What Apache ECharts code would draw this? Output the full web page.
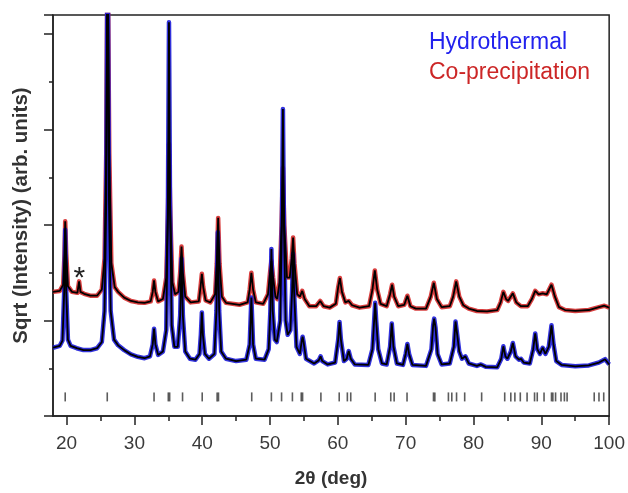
<!DOCTYPE html>
<html>
<head>
<meta charset="utf-8">
<script src="https://cdn.jsdelivr.net/npm/echarts@6/dist/echarts.min.js"></script>
<style>html,body{margin:0;padding:0;background:#fff;}#c{width:628px;height:493px;}</style>
</head>
<body>
<div id="c"></div>
<script>
// 2-theta (deg), sqrt(intensity) in arbitrary units (offset already included)
const hydrothermal = [
 [18,1.43],[19.0,1.47],[19.4,1.58],[19.65,2.6],[19.8,3.9],[19.95,2.6],[20.2,1.6],[20.6,1.47],[21.5,1.42],[22.5,1.38],[23.5,1.38],[24.5,1.42],
 [25.2,1.55],[25.6,2.2],[25.85,4.5],[26.05,10.5],[26.25,4.5],[26.5,2.2],[27.0,1.6],[27.6,1.48],[28.5,1.38],[29.5,1.29],[30.5,1.24],[31.5,1.21],
 [32.3,1.25],[32.7,1.5],[32.9,1.83],[33.1,1.5],[33.5,1.28],[34.2,1.35],[34.7,1.8],[34.95,4.5],[35.1,8.25],[35.25,4.5],[35.5,1.9],[35.9,1.45],
 [36.4,1.45],[36.75,2.1],[36.95,3.3],[37.15,2.1],[37.5,1.35],[38.2,1.2],[39.0,1.18],[39.6,1.3],[39.8,1.7],[39.95,2.17],[40.1,1.7],[40.4,1.3],
 [41.0,1.2],[41.8,1.3],[42.1,2.2],[42.3,3.85],[42.5,2.2],[42.8,1.35],[43.5,1.2],[45,1.15],[46.5,1.18],[47.0,1.5],[47.25,2.48],[47.5,1.5],
 [47.9,1.2],[49.2,1.18],[49.8,1.4],[50.05,2.2],[50.2,3.5],[50.4,2.2],[50.7,1.6],[51.0,1.55],[51.5,2.0],[51.75,4.0],[51.9,6.43],[52.05,4.0],
 [52.3,2.0],[52.6,1.7],[53.0,1.8],[53.25,2.6],[53.4,3.4],[53.55,2.6],[53.9,1.45],[54.4,1.3],[54.65,1.55],[54.8,1.66],[54.95,1.55],[55.3,1.2],
 [56.5,1.1],[57.2,1.17],[57.45,1.25],[57.7,1.15],[58.5,1.08],[59.6,1.12],[60.05,1.6],[60.25,1.97],[60.45,1.6],[60.9,1.15],[61.3,1.2],[61.6,1.36],
 [61.9,1.2],[62.5,1.08],[64.5,1.07],[65.1,1.4],[65.35,2.0],[65.5,2.37],[65.65,2.0],[65.95,1.4],[66.5,1.1],[67.2,1.08],[67.7,1.45],[67.95,1.94],
 [68.2,1.45],[68.7,1.1],[69.6,1.07],[70.0,1.3],[70.25,1.51],[70.5,1.3],[71.0,1.07],[73.0,1.05],[73.8,1.4],[74.05,1.9],[74.2,2.04],[74.4,1.85],
 [74.7,1.3],[75.3,1.08],[76.5,1.1],[77.1,1.45],[77.35,1.98],[77.6,1.7],[77.9,1.35],[78.3,1.2],[78.8,1.25],[79.3,1.1],[80.5,1.05],[81.1,1.08],
 [81.8,1.03],[83.5,1.02],[84.1,1.2],[84.4,1.46],[84.7,1.25],[85.0,1.2],[85.5,1.35],[85.8,1.53],[86.2,1.25],[86.7,1.18],[87.0,1.2],[87.4,1.12],
 [88.3,1.1],[88.8,1.4],[89.1,1.73],[89.4,1.4],[89.8,1.3],[90.2,1.43],[90.6,1.3],[91.1,1.45],[91.5,1.9],[91.8,1.5],[92.2,1.15],[93,1.07],
 [95,1.04],[97,1.06],[98.5,1.12],[99.4,1.19],[100,1.08]
];
const coprecipitation = [
 [18,2.6],[19.0,2.62],[19.5,2.75],[19.7,3.4],[19.8,4.08],[19.95,3.4],[20.2,2.72],[20.8,2.6],[21.6,2.58],[21.85,2.82],[22.05,2.6],[22.6,2.56],
 [23.5,2.52],[24.5,2.52],[25.2,2.65],[25.6,3.3],[25.85,5.5],[26.05,10],[26.3,5.5],[26.6,3.2],[27.1,2.7],[27.6,2.6],[28.5,2.48],[29.5,2.41],
 [30.5,2.38],[31.5,2.37],[32.4,2.4],[32.7,2.6],[32.9,2.84],[33.1,2.6],[33.5,2.4],[34.2,2.45],[34.7,2.9],[34.95,4.2],[35.1,5.7],[35.3,4.2],
 [35.6,2.8],[36.0,2.55],[36.5,2.6],[36.75,3.0],[36.95,3.55],[37.15,3.0],[37.5,2.5],[38.3,2.38],[39.5,2.4],[39.75,2.7],[39.95,2.98],[40.15,2.7],
 [40.5,2.42],[41.2,2.38],[41.9,2.55],[42.15,3.2],[42.35,4.15],[42.55,3.2],[42.9,2.5],[43.5,2.37],[45.5,2.33],[46.7,2.38],[47.0,2.65],[47.25,3.0],
 [47.5,2.65],[47.9,2.38],[49.0,2.35],[49.7,2.55],[50.0,3.0],[50.2,3.25],[50.45,2.9],[50.8,2.5],[51.05,2.45],[51.4,2.8],[51.7,4.0],[51.9,5.2],
 [52.1,4.0],[52.5,2.9],[52.9,2.9],[53.2,3.3],[53.4,3.74],[53.6,3.2],[54.0,2.55],[54.4,2.5],[54.75,2.62],[55.1,2.45],[55.8,2.3],[56.8,2.3],
 [57.4,2.41],[57.9,2.3],[58.8,2.27],[59.7,2.35],[60.05,2.7],[60.3,2.89],[60.6,2.6],[61.1,2.38],[61.6,2.41],[62.1,2.32],[63.2,2.27],[64.6,2.3],
 [65.1,2.65],[65.45,3.05],[65.8,2.65],[66.3,2.35],[67.2,2.3],[67.7,2.55],[68.0,2.75],[68.3,2.5],[68.9,2.3],[69.8,2.33],[70.25,2.52],[70.7,2.3],
 [71.5,2.25],[73.0,2.25],[73.7,2.5],[74.15,2.79],[74.6,2.45],[75.3,2.28],[76.5,2.3],[77.0,2.5],[77.45,2.82],[77.9,2.5],[78.5,2.32],[79.3,2.25],
 [80.5,2.2],[82,2.19],[83.5,2.22],[84.0,2.38],[84.4,2.6],[84.8,2.45],[85.1,2.41],[85.8,2.57],[86.3,2.38],[87.0,2.3],[88.0,2.3],[88.6,2.45],
 [89.1,2.62],[89.6,2.55],[90.2,2.57],[90.8,2.55],[91.5,2.75],[92.0,2.5],[92.6,2.28],[93.5,2.22],[95,2.2],[97,2.22],[98.5,2.28],[99.3,2.31],[100,2.27]
];
// Bragg reflection positions (2-theta, deg)
const braggPositions = [19.8,26.0,32.9,35.0,35.2,37.1,40.0,42.2,42.4,47.3,50.2,51.7,53.3,54.6,54.8,57.5,60.2,61.4,61.9,65.5,67.8,68.3,70.2,74.1,74.3,
 76.3,76.8,77.5,78.7,81.2,84.6,85.5,86.1,86.9,87.9,89.0,89.4,90.4,91.5,91.7,92.1,92.9,93.4,93.8,97.8,98.5,99.2];
const braggLevel = 0.4;
const xMajorTicks = [20,30,40,50,60,70,80,90,100];
const xMinorTicks = [25,35,45,55,65,75,85,95];
const asteriskAt = [21.9, 3.05];

const chart = echarts.init(document.getElementById('c'), null, {renderer:'canvas'});
const FONT = '"Liberation Sans", Arial, sans-serif';
const BLUE = '#1c1cd8', RED = '#d42a2a';

chart.setOption({
  animation: false,
  backgroundColor: '#fff',
  grid: {left: 53, top: 15, right: 16, bottom: 70, show: true, borderColor: '#222', borderWidth: 1.5, backgroundColor: 'transparent'},
  legend: {
    orient: 'vertical', left: 424, top: 31, padding: 0, itemGap: 7, itemWidth: 0, itemHeight: 0, icon: 'rect',
    selectedMode: false,
    textStyle: {fontFamily: FONT, fontSize: 23},
    data: [
      {name: 'Hydrothermal', textStyle: {color: '#2222ee'}},
      {name: 'Co-precipitation', textStyle: {color: '#cc2626'}}
    ]
  },
  xAxis: [{
    type: 'value', min: 18, max: 100,
    name: '2θ (deg)', nameLocation: 'middle', nameGap: 53,
    nameTextStyle: {fontFamily: FONT, fontSize: 19, fontWeight: 'bold', color: '#333'},
    axisLine: {show: true, onZero: false, lineStyle: {color: '#222', width: 1.5}},
    axisTick: {show: true, length: 9, customValues: xMajorTicks, lineStyle: {color: '#222', width: 1.5}},
    axisLabel: {customValues: xMajorTicks, margin: 18, fontFamily: FONT, fontSize: 19, color: '#3a3a3a'},
    splitLine: {show: false}
  }, {
    type: 'value', min: 18, max: 100, position: 'bottom',
    axisLine: {show: false},
    axisTick: {show: true, length: 5, customValues: xMinorTicks, lineStyle: {color: '#222', width: 1.5}},
    axisLabel: {show: false},
    splitLine: {show: false}
  }],
  yAxis: {
    type: 'value', min: 0, max: 8.4, interval: 2,
    name: 'Sqrt (Intensity) (arb. units)', nameLocation: 'middle', nameGap: 21,
    nameTextStyle: {fontFamily: FONT, fontSize: 20.5, fontWeight: 'bold', color: '#333'},
    axisLine: {show: true, lineStyle: {color: '#222', width: 1.5}},
    axisTick: {show: true, length: 9, lineStyle: {color: '#222', width: 1.5}},
    minorTick: {show: true, splitNumber: 2, length: 4, lineStyle: {color: '#222', width: 1.5}},
    axisLabel: {show: false},
    splitLine: {show: false}, minorSplitLine: {show: false}
  },
  series: [
    {name: 'Co-precipitation', type: 'line', data: coprecipitation, showSymbol: false, clip: true,
     lineStyle: {color: RED, width: 4.5, join: 'round', opacity: 0.9}, itemStyle: {color: RED}, z: 2,
     markPoint: {symbol: 'circle', symbolSize: 1, itemStyle: {color: 'rgba(0,0,0,0)'},
       label: {show: true, formatter: '*', fontFamily: FONT, fontSize: 30, color: '#222', offset: [0, 8]},
       data: [{coord: asteriskAt}]}},
    {name: 'Hydrothermal', type: 'line', data: hydrothermal, showSymbol: false, clip: true,
     lineStyle: {color: BLUE, width: 4.5, join: 'round', opacity: 0.9}, itemStyle: {color: BLUE}, z: 3},
    {name: 'Co-precipitation fit', type: 'line', data: coprecipitation, showSymbol: false, clip: true,
     lineStyle: {color: '#000', width: 1.8}, z: 4},
    {name: 'Hydrothermal fit', type: 'line', data: hydrothermal, showSymbol: false, clip: true,
     lineStyle: {color: '#000', width: 1.8}, z: 5},
    {name: 'Bragg positions', type: 'scatter', data: braggPositions.map(p => [p, braggLevel]),
     symbol: 'rect', symbolSize: [1.6, 9], itemStyle: {color: '#333'}, z: 1}
  ]
});
</script>
</body>
</html>
